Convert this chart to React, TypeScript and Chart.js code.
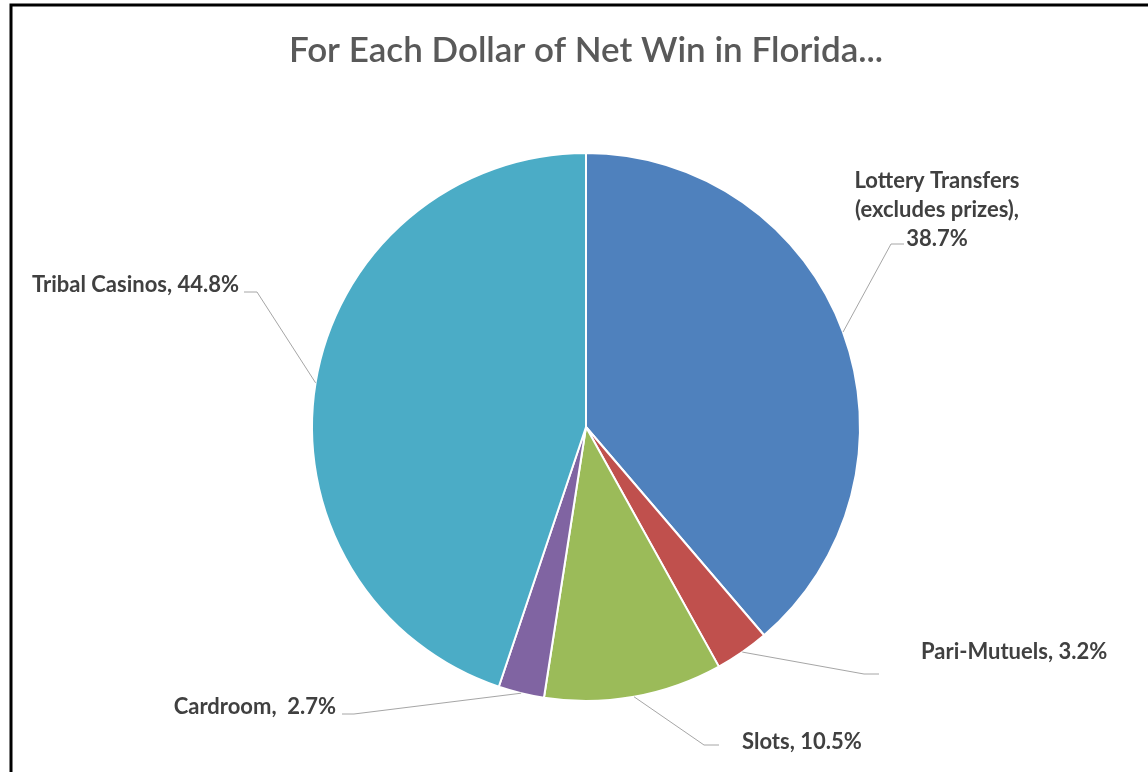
import React, { useEffect, useRef } from "react";
import { Chart, registerables } from "chart.js";

Chart.register(...registerables);

// ---- data ----
const categories = [
  "Lottery Transfers (excludes prizes)",
  "Pari-Mutuels",
  "Slots",
  "Cardroom",
  "Tribal Casinos",
];
const shares = [38.7, 3.2, 10.5, 2.7, 44.8];
const labelPrefixes = [
  "Lottery Transfers\n(excludes prizes),\n",
  "Pari-Mutuels, ",
  "Slots, ",
  "Cardroom,  ",
  "Tribal Casinos, ",
];
const chartTitle = "For Each Dollar of Net Win in Florida...";

// ---- style ----
const colors = ["#4F81BD", "#C0504D", "#9BBB59", "#8064A2", "#4BACC6"];
const FONT = "Lato, 'Open Sans', sans-serif";

// label layout relative to pie center (px)
const labelLayout = [
  { align: "center", tx: 351, ty: -246, elbow: [305, -183], end: [318, -183] },
  { align: "left", tx: 335, ty: 225, elbow: [278, 247], end: [293, 247] },
  { align: "left", tx: 156, ty: 315, elbow: [118, 318], end: [133, 318] },
  { align: "right", tx: -250, ty: 280, elbow: [-232, 287], end: [-244, 287] },
  { align: "right", tx: -347, ty: -142, elbow: [-329, -135], end: [-342, -135] },
];

const decorPlugin = {
  id: "decor",
  beforeDraw(chart: any) {
    const ctx = chart.ctx;
    ctx.save();
    ctx.fillStyle = "#ffffff";
    ctx.fillRect(0, 0, chart.width, chart.height);
    // frame
    ctx.strokeStyle = "#000000";
    ctx.lineWidth = 3;
    ctx.beginPath();
    ctx.moveTo(11, chart.height + 5);
    ctx.lineTo(11, 5);
    ctx.lineTo(chart.width + 5, 5);
    ctx.stroke();
    // title
    ctx.fillStyle = "#595959";
    ctx.font = `600 35px ${FONT}`;
    ctx.textAlign = "center";
    ctx.textBaseline = "middle";
    ctx.fillText(chartTitle, 586, 51);
    ctx.restore();
  },
  afterDatasetsDraw(chart: any) {
    const ctx = chart.ctx;
    const meta = chart.getDatasetMeta(0);
    ctx.save();
    meta.data.forEach((arc: any, i: number) => {
      const lay = labelLayout[i];
      const cx = arc.x;
      const cy = arc.y;
      const mid = (arc.startAngle + arc.endAngle) / 2;
      const ax = cx + Math.cos(mid) * arc.outerRadius;
      const ay = cy + Math.sin(mid) * arc.outerRadius;
      ctx.strokeStyle = "#A6A6A6";
      ctx.lineWidth = 1;
      ctx.beginPath();
      ctx.moveTo(ax, ay);
      ctx.lineTo(cx + lay.elbow[0], cy + lay.elbow[1]);
      ctx.lineTo(cx + lay.end[0], cy + lay.end[1]);
      ctx.stroke();
      const text = labelPrefixes[i] + shares[i].toFixed(1) + "%";
      const lines = text.split("\n");
      ctx.fillStyle = "#404040";
      ctx.font = `bold 22px ${FONT}`;
      ctx.textAlign = lay.align;
      ctx.textBaseline = "middle";
      lines.forEach((ln, k) => {
        ctx.fillText(ln, cx + lay.tx, cy + lay.ty + k * 29);
      });
    });
    ctx.restore();
  },
};

export default function App() {
  const ref = useRef<HTMLCanvasElement | null>(null);
  useEffect(() => {
    document.body.style.margin = "0";
    const canvas = ref.current;
    if (!canvas) return;
    const chart = new Chart(canvas, {
      type: "pie",
      data: {
        labels: categories,
        datasets: [
          {
            data: shares,
            backgroundColor: colors,
            borderColor: "#ffffff",
            borderWidth: 2,
          },
        ],
      },
      options: {
        responsive: false,
        animation: false,
        layout: { padding: { left: 311, right: 287, top: 151, bottom: 69 } },
        plugins: {
          legend: { display: false },
          title: { display: false },
          tooltip: { enabled: false },
        },
      },
      plugins: [decorPlugin],
    });
    return () => chart.destroy();
  }, []);
  return (
    <div style={{ width: 1148, height: 772 }}>
      <canvas ref={ref} width={1148} height={772} style={{ display: "block" }} />
    </div>
  );
}
